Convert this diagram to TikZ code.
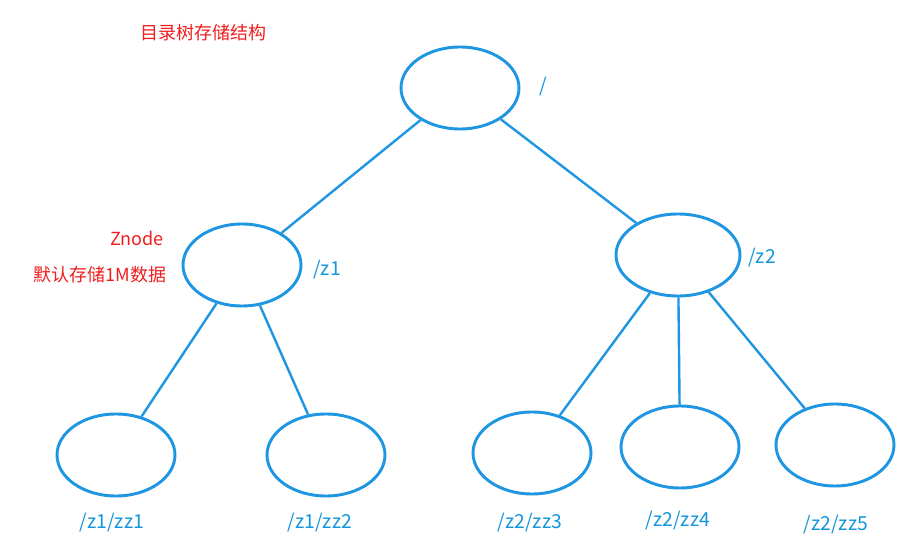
\documentclass[tikz,border=0pt]{standalone}
\usepackage{fontspec}
\setmainfont{Noto Sans CJK SC}
\usetikzlibrary{shapes.geometric}
\definecolor{eb}{RGB}{30,150,225}
\definecolor{tb}{RGB}{20,150,220}
\definecolor{rd}{RGB}{240,30,30}
\tikzset{
 tn/.style={ellipse,draw=eb,line width=2.2pt,minimum width=118pt*0.75,minimum height=82pt*0.75,inner sep=0},
 ed/.style={draw=eb,line width=1.8pt},
 lb/.style={text=tb,font=\fontsize{14.5}{16}\selectfont},
 rl/.style={text=rd,font=\fontsize{13.5}{16}\selectfont}
}
\begin{document}
\begin{tikzpicture}[x=0.75pt,y=-0.75pt]
\useasboundingbox[fill=white] (0,0) rectangle (921,555);
\node[tn] (r) at (460,88) {};
\node[tn] (a) at (242,265) {};
\node[tn,minimum width=124pt*0.75] (b) at (678,255) {};
\node[tn] (l1) at (116,455) {};
\node[tn] (l2) at (326,455) {};
\node[tn] (l3) at (532,453) {};
\node[tn] (l4) at (680,447) {};
\node[tn] (l5) at (835,445) {};
\draw[ed] (r) -- (a);
\draw[ed] (r) -- (b);
\draw[ed] (a) -- (l1);
\draw[ed] (a) -- (l2);
\draw[ed] (b) -- (l3);
\draw[ed] (b) -- (l4);
\draw[ed] (b) -- (l5);
\node[lb] (tr) at (543,87) {/};
\node[lb] (ta) at (327,270) {/z1};
\node[lb] (tb2) at (762,258) {/z2};
\node[lb] (t1) at (112,523) {/z1/zz1};
\node[lb] (t2) at (320,523) {/z1/zz2};
\node[lb] (t3) at (530,523) {/z2/zz3};
\node[lb] (t4) at (678,521) {/z2/zz4};
\node[lb] (t5) at (836,525) {/z2/zz5};
\node[rl] (title) at (203,33) {目录树存储结构};
\node[rl] (zn) at (137,238) {Znode};
\node[rl] (zd) at (100,275) {默认存储1M数据};
\end{tikzpicture}
\end{document}
